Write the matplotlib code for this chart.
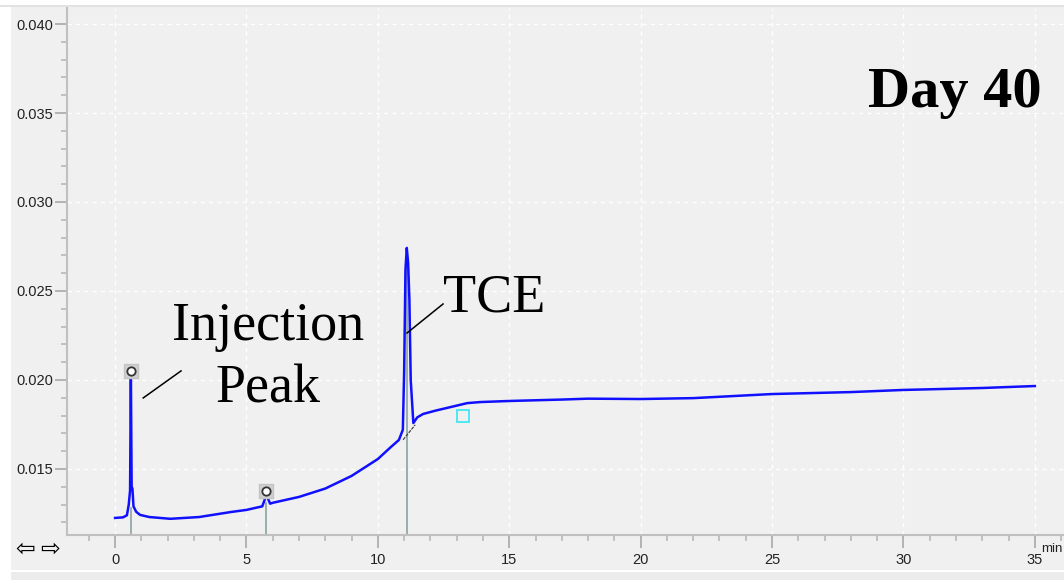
"""
chromatogram, day 40
"""
import matplotlib.pyplot as plt
import matplotlib.patches as mpatches
import numpy as np

# retention time (min) and detector signal
time_min = [0.0, 0.3, 0.45, 0.52, 0.57, 0.6, 0.63, 0.66, 0.7, 0.8, 0.95, 1.3,
            2.1, 3.2, 4.4, 5.0, 5.6, 5.7, 5.75, 5.8, 5.9, 6.0, 7.0, 8.0, 9.0,
            10.0, 10.5, 10.8, 10.95, 11.0, 11.05, 11.1, 11.15, 11.2, 11.25,
            11.35, 11.5, 11.72, 12.2, 12.63, 13.4, 13.9, 15.0, 17.0, 18.0,
            20.0, 22.0, 25.0, 28.0, 30.0, 33.0, 35.0]
signal = [0.01225, 0.01228, 0.01240, 0.01300, 0.01380, 0.02050, 0.01400,
          0.01390, 0.01290, 0.01260, 0.01242, 0.01230, 0.01220, 0.01230,
          0.01258, 0.01270, 0.01290, 0.01330, 0.01371, 0.01340, 0.01305,
          0.01310, 0.01343, 0.01390, 0.01461, 0.01556, 0.01624, 0.01663,
          0.01720, 0.02050, 0.02620, 0.02742, 0.02660, 0.02450, 0.02000,
          0.01758, 0.01790, 0.01809, 0.01828, 0.01843, 0.01870, 0.01876,
          0.01882, 0.01890, 0.01895, 0.01893, 0.01898, 0.01921, 0.01932,
          0.01944, 0.01955, 0.01966]

# detected peaks: retention time, marker height, drop line top
peak_time = [0.6, 5.75, 11.1]
peak_mark = [0.0205, 0.01376, None]
peak_drop_top = [0.0128, 0.0131, 0.0274]

# integration baseline under TCE and the cyan end marker
tce_base_t = [10.96, 11.42]
tce_base_v = [0.01664, 0.01748]
end_mark_t, end_mark_v = 13.24, 0.01798

# leader lines for the labels
inj_leader_t = [1.07, 2.51]
inj_leader_v = [0.01899, 0.02051]
tce_leader_t = [11.11, 12.48]
tce_leader_v = [0.02264, 0.02427]

W, H = 1064, 580
fig = plt.figure(figsize=(W / 100, H / 100), dpi=100, facecolor="white")


def fx(px):
    return px / W


def fy(py):
    return 1 - py / H


# window chrome, drawn under the axes
for (x0, y0, w, h, col) in [(11, 570, 1064 - 11, 570 - 7, "#f0f0f0"),
                            (0, 7, 1064, 2.5, "#e2e2e2"),
                            (11, 580, 1064, 8, "#ececec")]:
    fig.patches.append(mpatches.Rectangle((fx(x0), fy(y0)), fx(w), h / H,
                                          transform=fig.transFigure, facecolor=col,
                                          edgecolor="none", zorder=-5))

ax = fig.add_axes([fx(67), fy(535), fx(W - 67), (535 - 8) / H])
ax.set_zorder(1)
ax.set_facecolor("#f0f0f0")
ax.set_xlim(-1.83, 36.11)
ax.set_ylim(0.01129, 0.0409)

# drop lines at the peaks
for t, top in zip(peak_time, peak_drop_top):
    ax.plot([t, t], [0.01129, top], color="#809c9c", lw=1.1, zorder=2)

ax.plot(time_min, signal, color="#1010ff", lw=1.8, zorder=3)
ax.plot(tce_base_t, tce_base_v, color="#333333", lw=0.8, ls=(0, (3, 1)), zorder=4)

for t, m in zip(peak_time, peak_mark):
    if m is None:
        continue
    ax.plot(t, m, marker="s", ms=10, mfc="#cfcfcf", mec="#c4c4c4", zorder=5)
    ax.plot(t, m, marker="o", ms=6, mfc="white", mec="#333333", mew=1.3, zorder=6)

ax.plot(end_mark_t, end_mark_v, marker="s", ms=9, mfc="none", mec="#40e8f0", mew=1.3, zorder=5)

ax.plot(inj_leader_t, inj_leader_v, color="black", lw=1.1, zorder=4)
ax.plot(tce_leader_t, tce_leader_v, color="black", lw=1.1, zorder=4)

serif = ["Liberation Serif", "DejaVu Serif"]
ax.text(2.17, 0.02225, "Injection", family=serif, fontsize=39, va="baseline", ha="left")
ax.text(3.81, 0.01876, "Peak", family=serif, fontsize=39, va="baseline", ha="left")
ax.text(12.48, 0.02382, "TCE", family=serif, fontsize=39, va="baseline", ha="left")
ax.text(35.27, 0.03534, "Day 40", family=serif, fontsize=42, fontweight="bold",
        va="baseline", ha="right")

# axes styling
for side in ["top", "right"]:
    ax.spines[side].set_visible(False)
for side in ["left", "bottom"]:
    ax.spines[side].set_color("#c0c0c0")
    ax.spines[side].set_linewidth(1.5)

ax.set_xticks(np.arange(0, 36, 5))
ax.set_xticks(np.arange(-1, 37, 1), minor=True)
ax.set_yticks([0.015, 0.020, 0.025, 0.030, 0.035, 0.040])
ax.set_yticks(np.arange(0.012, 0.0405, 0.001), minor=True)
ax.set_yticklabels(["0.015", "0.020", "0.025", "0.030", "0.035", "0.040"])

tick_font = ["Liberation Sans Narrow", "Liberation Sans"]
ax.tick_params(axis="both", which="major", length=9, width=1.2, color="#a8a8a8",
               labelcolor="#222222", labelsize=10.5)
ax.tick_params(axis="both", which="minor", length=4, width=1.2, color="#b8b8b8")
ax.tick_params(axis="x", which="major", pad=4)
ax.tick_params(axis="y", which="major", pad=1)
for lab in ax.get_xticklabels() + ax.get_yticklabels():
    lab.set_family(tick_font)

ax.grid(True, which="major", color="white", ls=(0, (3, 3)), lw=1.0)
ax.set_axisbelow(True)

fig.text(fx(1041), fy(552), "min", family=tick_font, fontsize=9.5, color="#222222",
         va="baseline", ha="left")
fig.text(fx(25), fy(549), "\u21e6", family=["DejaVu Sans"], fontsize=17,
         ha="center", va="center")
fig.text(fx(50), fy(549), "\u21e8", family=["DejaVu Sans"], fontsize=17,
         ha="center", va="center")

fig.savefig("out.png", dpi=100, facecolor=fig.get_facecolor())
